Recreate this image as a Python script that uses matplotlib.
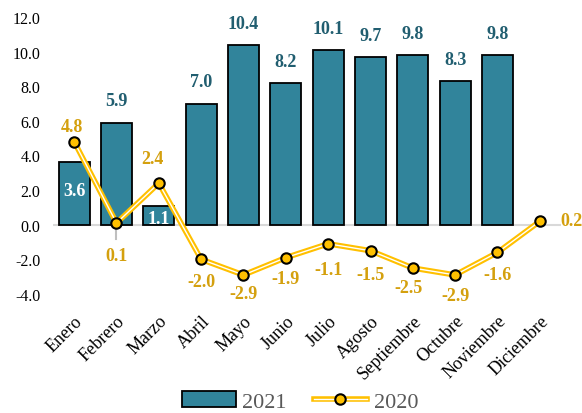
import matplotlib
matplotlib.use("Agg")
import matplotlib.pyplot as plt
import matplotlib.transforms as mtransforms
from matplotlib.lines import Line2D
from matplotlib.patches import Patch
import numpy as np

months = ["Enero", "Febrero", "Marzo", "Abril", "Mayo", "Junio", "Julio",
          "Agosto", "Septiembre", "Octubre", "Noviembre", "Diciembre"]
vals_2021 = [3.6, 5.9, 1.1, 7.0, 10.4, 8.2, 10.1, 9.7, 9.8, 8.3, 9.8]
vals_2020 = [4.8, 0.1, 2.4, -2.0, -2.9, -1.9, -1.1, -1.5, -2.5, -2.9, -1.6, 0.2]
yticks = [-4, -2, 0, 2, 4, 6, 8, 10, 12]

plt.rcParams['font.family'] = ['Liberation Serif', 'DejaVu Serif']

BAR = '#31849B'
BAR_TXT = '#215E70'
GOLD = '#FFC000'
GOLD_TXT = '#D4A00E'

fig = plt.figure(figsize=(5.82, 4.14), dpi=100)
ax = fig.add_axes([53/582, (414-295)/414, (561-53)/582, (295-18)/414])

x = np.arange(len(months))
xb = x[:len(vals_2021)]
ax.bar(xb, vals_2021, width=0.73, color=BAR, edgecolor='black', linewidth=1.3, zorder=2)
ax.axhline(0, color='#D9D9D9', lw=1.5, zorder=1)
ax.plot([1, 1], [0, -0.85], color='#BFBFBF', lw=1.5, zorder=1)

ax.plot(x, vals_2020, color=GOLD, lw=4, zorder=3, solid_capstyle='round')
ax.plot(x, vals_2020, color='white', lw=1.0, zorder=4)
ax.plot(x, vals_2020, ls='none', marker='o', ms=7.5, mfc=GOLD, mec='black', mew=1.5, zorder=5)

# 2021 labels
for i, v in enumerate(vals_2021):
    if i in (0, 2):
        ax.text(i, v - (1.6 if i == 0 else 0.75), f"{v:.1f}", ha='center', va='center',
                color='white', fontsize=13, fontweight='bold', zorder=6)
    else:
        ax.text(i, v + 1.25, f"{v:.1f}", ha='center', va='center',
                color=BAR_TXT, fontsize=13, fontweight='bold', zorder=6)

# 2020 labels (offsets in data units)
offs = [(-0.05, 0.9), (0, -1.85), (-0.15, 1.4), (0, -1.3), (0, -1.1), (0, -1.2),
        (0, -1.5), (0, -1.4), (-0.1, -1.15), (0, -1.2), (0, -1.3), (0.75, 0.05)]
for i, v in enumerate(vals_2020):
    dx, dy = offs[i]
    ax.text(i + dx, v + dy, f"{v:.1f}", ha='center', va='center',
            color=GOLD_TXT, fontsize=13, fontweight='bold', zorder=6)

ax.set_xlim(-0.5, len(months) - 0.5)
ax.set_ylim(-4, 12)
ax.set_yticks(yticks)
ax.set_yticklabels([f"{t:.1f}" for t in yticks], fontsize=11.5)
ax.set_xticks(x)
ax.set_xticklabels(months, rotation=45, ha='right', va='top', rotation_mode='anchor', fontsize=13)
offset = mtransforms.ScaledTranslation(3/100, 0, fig.dpi_scale_trans)
for lab in ax.get_xticklabels():
    lab.set_transform(lab.get_transform() + offset)
ax.tick_params(axis='both', length=0)
ax.tick_params(axis='y', pad=9)
ax.tick_params(axis='x', pad=13)
for s in ax.spines.values():
    s.set_visible(False)

h1 = Patch(facecolor=BAR, edgecolor='black', linewidth=1.3)
h2a = Line2D([], [], color=GOLD, lw=4)
h2b = Line2D([], [], color='white', lw=1.0)
h2c = Line2D([], [], ls='none', marker='o', ms=7.5, mfc=GOLD, mec='black', mew=1.5)
fig.legend([h1, (h2a, h2b, h2c)], ["2021", "2020"], loc='lower center',
           bbox_to_anchor=(0.516, -0.045), ncol=2, frameon=False, fontsize=16,
           labelcolor='#595959', handlelength=2.4, columnspacing=1.2, handletextpad=0.3)

fig.savefig("out.png", dpi=100)
